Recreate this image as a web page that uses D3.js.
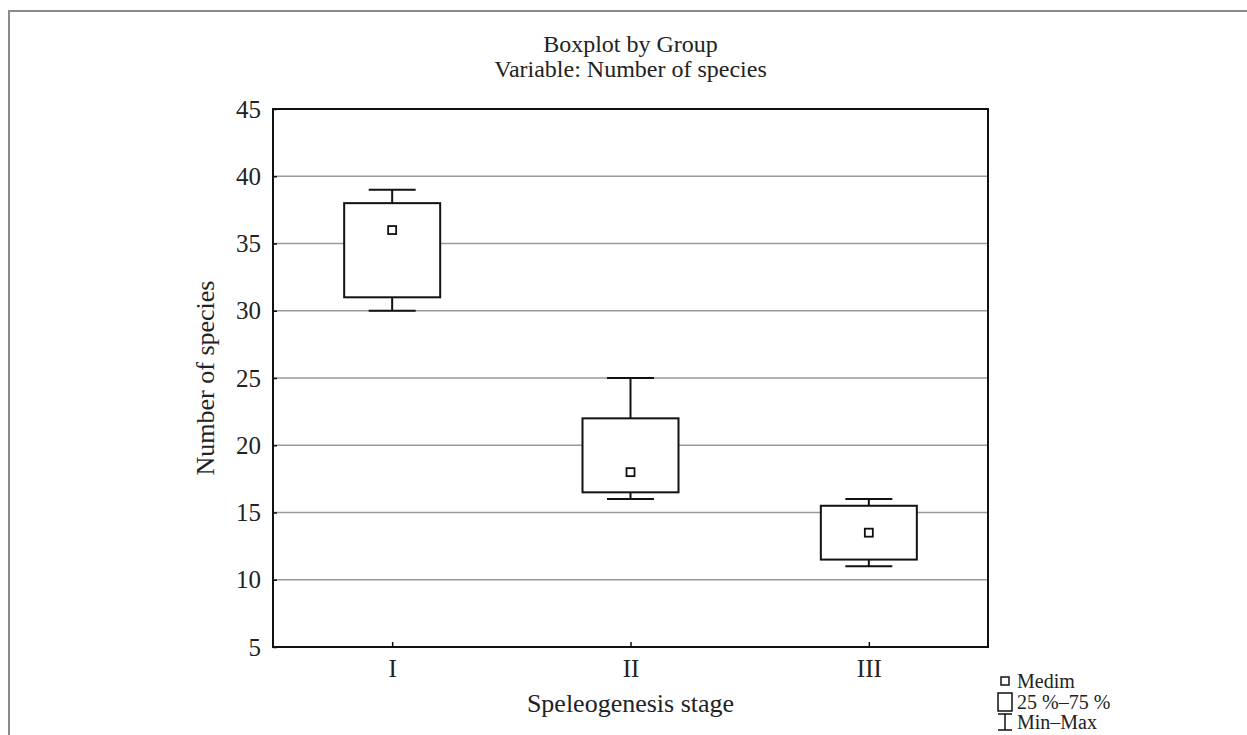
<!DOCTYPE html>
<html>
<head>
<meta charset="utf-8">
<script src="https://cdn.jsdelivr.net/npm/d3@7"></script>
<style>
  html, body { margin: 0; padding: 0; background: #fff; }
  svg { display: block; }
  text { font-family: "Liberation Serif", "Times New Roman", serif; fill: #222; }
</style>
</head>
<body>
<svg id="chart" width="1247" height="735"></svg>
<script>
// ---- data ----
const categories = ["I", "II", "III"];
const minValues = [30, 16, 11];
const q1Values = [31, 16.5, 11.5];
const medianValues = [36, 18, 13.5];
const q3Values = [38, 22, 15.5];
const maxValues = [39, 25, 16];
const yTicks = [5, 10, 15, 20, 25, 30, 35, 40, 45];
const gridValues = [10, 15, 20, 25, 30, 35, 40];
const legendLabels = ["Medim", "25 %–75 %", "Min–Max"];
const titleLines = ["Boxplot by Group", "Variable: Number of species"];
const xAxisTitle = "Speleogenesis stage";
const yAxisTitle = "Number of species";

const svg = d3.select("#chart");
const margin = { left: 273, right: 1247 - 988, top: 109, bottom: 735 - 647 };
const W = 1247, H = 735;

// outer frame (top and left edges visible)
svg.append("path")
  .attr("d", `M9,${H} L9,11 L${W},11`)
  .attr("fill", "none").attr("stroke", "#8a8a8a").attr("stroke-width", 2);

const x = d3.scalePoint().domain(categories)
  .range([margin.left, W - margin.right]).padding(0.5);
const y = d3.scaleLinear().domain([5, 45]).range([H - margin.bottom, margin.top]);

// grid
svg.append("g").selectAll("line").data(gridValues).join("line")
  .attr("x1", margin.left).attr("x2", W - margin.right)
  .attr("y1", d => y(d)).attr("y2", d => y(d))
  .attr("stroke", "#9a9a9a").attr("stroke-width", 1.3);

// plot frame
svg.append("rect")
  .attr("x", margin.left).attr("y", margin.top)
  .attr("width", W - margin.right - margin.left)
  .attr("height", H - margin.bottom - margin.top)
  .attr("fill", "none").attr("stroke", "#111").attr("stroke-width", 2);

// axes
const yAxis = d3.axisLeft(y).tickValues(yTicks).tickSizeInner(-4).tickSizeOuter(0).tickPadding(12);
const gy = svg.append("g").attr("transform", `translate(${margin.left},0)`).call(yAxis);
gy.select(".domain").remove();
gy.selectAll("line").attr("stroke", "#111").attr("stroke-width", 1.5);
gy.selectAll("text").attr("font-size", 25).attr("font-family", "Liberation Serif").attr("fill", "#222");

const xAxis = d3.axisBottom(x).tickSizeInner(-5).tickSizeOuter(0).tickPadding(12);
const gx = svg.append("g").attr("transform", `translate(0,${H - margin.bottom})`).call(xAxis);
gx.select(".domain").remove();
gx.selectAll("line").attr("stroke", "#111").attr("stroke-width", 1.5);
gx.selectAll("text").attr("font-size", 25).attr("font-family", "Liberation Serif").attr("fill", "#222");

// boxes
const boxW = 96, capW = 47, medS = 8;
const groups = svg.append("g").selectAll("g").data(categories).join("g");
groups.append("line")
  .attr("x1", d => x(d)).attr("x2", d => x(d))
  .attr("y1", (d, i) => y(maxValues[i])).attr("y2", (d, i) => y(q3Values[i]))
  .attr("stroke", "#111").attr("stroke-width", 2);
groups.append("line")
  .attr("x1", d => x(d)).attr("x2", d => x(d))
  .attr("y1", (d, i) => y(q1Values[i])).attr("y2", (d, i) => y(minValues[i]))
  .attr("stroke", "#111").attr("stroke-width", 2);
groups.append("line")
  .attr("x1", d => x(d) - capW / 2).attr("x2", d => x(d) + capW / 2)
  .attr("y1", (d, i) => y(maxValues[i])).attr("y2", (d, i) => y(maxValues[i]))
  .attr("stroke", "#111").attr("stroke-width", 2);
groups.append("line")
  .attr("x1", d => x(d) - capW / 2).attr("x2", d => x(d) + capW / 2)
  .attr("y1", (d, i) => y(minValues[i])).attr("y2", (d, i) => y(minValues[i]))
  .attr("stroke", "#111").attr("stroke-width", 2);
groups.append("rect")
  .attr("x", d => x(d) - boxW / 2).attr("width", boxW)
  .attr("y", (d, i) => y(q3Values[i]))
  .attr("height", (d, i) => y(q1Values[i]) - y(q3Values[i]))
  .attr("fill", "#fff").attr("stroke", "#111").attr("stroke-width", 2);
groups.append("rect")
  .attr("x", d => x(d) - medS / 2).attr("width", medS)
  .attr("y", (d, i) => y(medianValues[i]) - medS / 2).attr("height", medS)
  .attr("fill", "#fff").attr("stroke", "#111").attr("stroke-width", 1.8);

// titles
const cx = (margin.left + W - margin.right) / 2;
svg.append("text").attr("x", cx).attr("y", 52)
  .attr("text-anchor", "middle").attr("font-size", 24).text(titleLines[0]);
svg.append("text").attr("x", cx).attr("y", 77)
  .attr("text-anchor", "middle").attr("font-size", 24).text(titleLines[1]);
svg.append("text").attr("x", cx).attr("y", 712)
  .attr("text-anchor", "middle").attr("font-size", 26).text(xAxisTitle);
svg.append("text").attr("transform", `translate(214,${(margin.top + H - margin.bottom) / 2}) rotate(-90)`)
  .attr("text-anchor", "middle").attr("font-size", 26).text(yAxisTitle);

// legend
const lg = svg.append("g");
const lx = 1005, ly = [681, 702, 722];
lg.append("rect").attr("x", lx - 4).attr("y", ly[0] - 4).attr("width", 8).attr("height", 8)
  .attr("fill", "#fff").attr("stroke", "#111").attr("stroke-width", 1.5);
lg.append("rect").attr("x", lx - 7).attr("y", ly[1] - 9).attr("width", 14).attr("height", 18)
  .attr("fill", "#fff").attr("stroke", "#111").attr("stroke-width", 1.5);
lg.append("path")
  .attr("d", `M${lx - 7},${ly[2] - 8} H${lx + 7} M${lx},${ly[2] - 8} V${ly[2] + 8} M${lx - 7},${ly[2] + 8} H${lx + 7}`)
  .attr("fill", "none").attr("stroke", "#111").attr("stroke-width", 1.5);
lg.selectAll("text").data(legendLabels).join("text")
  .attr("x", lx + 12).attr("y", (d, i) => ly[i] + 7)
  .attr("font-size", 20).text(d => d);
</script>
</body>
</html>
